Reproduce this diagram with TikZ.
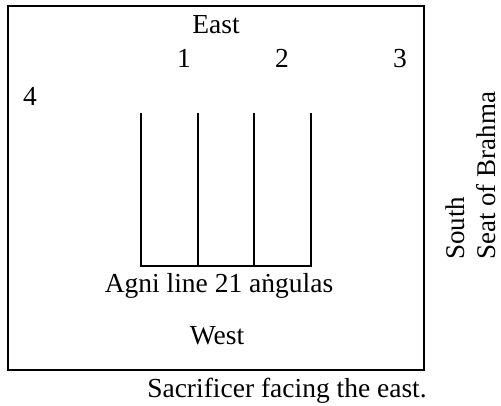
\documentclass[tikz,border=0pt]{standalone}
\usepackage{fontspec}
\setmainfont{Liberation Serif}
\begin{document}
\begin{tikzpicture}[x=1pt,y=-1pt,
  lbl/.style={inner sep=0pt,anchor=base,font=\fontsize{27.5}{33}\selectfont},
  rlbl/.style={inner sep=0pt,anchor=base west,rotate=90,font=\fontsize{27}{33}\selectfont},
  ln/.style={line width=2.2pt}]
\useasboundingbox (0,0) rectangle (501,405);
\draw[ln] (8,6) rectangle (424,370);
\coordinate (a1) at (141,113); \coordinate (b1) at (141,266);
\coordinate (a2) at (198,113); \coordinate (b2) at (198,266);
\coordinate (a3) at (254,113); \coordinate (b3) at (254,266);
\coordinate (a4) at (311,113); \coordinate (b4) at (311,266);
\draw[ln] (a1) -- (b1) -- (b4) -- (a4);
\draw[ln] (a2) -- (b2);
\draw[ln] (a3) -- (b3);
\node[lbl] (east) at (216,33) {East};
\node[lbl] (n1) at (184,67) {1};
\node[lbl] (n2) at (282,67) {2};
\node[lbl] (n3) at (400,67) {3};
\node[lbl] (n4) at (30,105) {4};
\node[lbl] (agni) at (219,292) {Agni line 21 a\.{n}gulas};
\node[lbl] (west) at (217,344) {West};
\node[lbl] (sac) at (287,397) {Sacrificer facing the east.};
\node[rlbl] (south) at (464,260) {South};
\node[rlbl] (seat) at (495,260) {Seat of Brahma};
\end{tikzpicture}
\end{document}
